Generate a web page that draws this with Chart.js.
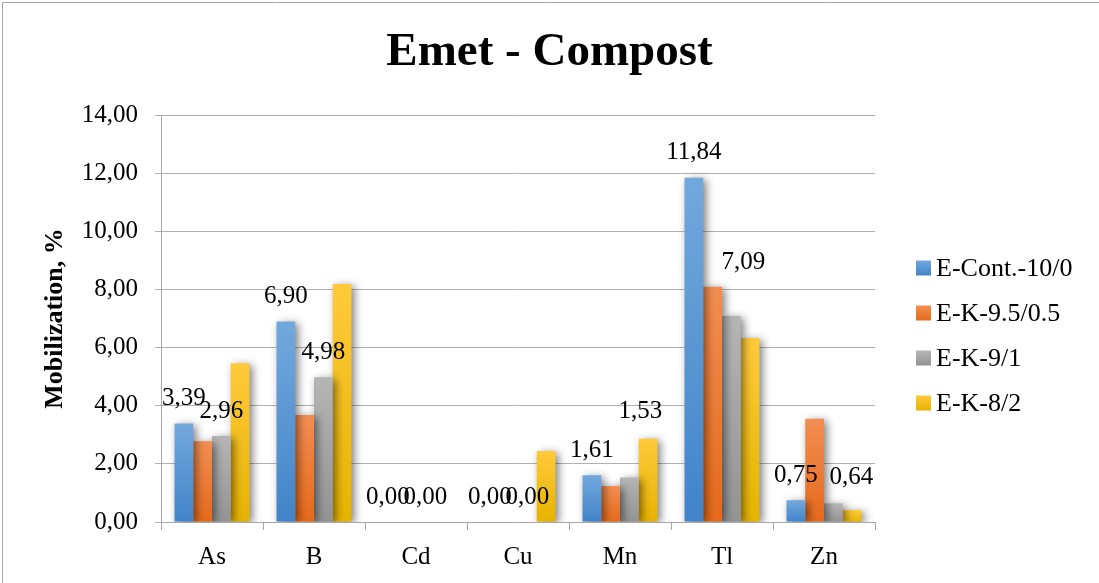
<!DOCTYPE html>
<html>
<head>
<meta charset="utf-8">
<title>Emet - Compost</title>
<script src="https://cdn.jsdelivr.net/npm/chart.js@4/dist/chart.umd.min.js"></script>
<style>
  html, body { margin: 0; padding: 0; background: #ffffff; }
  #wrap { position: relative; width: 1099px; height: 583px; }
  canvas { display: block; }
</style>
</head>
<body>
<div id="wrap"><canvas id="chart" width="1099" height="583"></canvas></div>
<script>
// Elements measured
const categories = ['As', 'B', 'Cd', 'Cu', 'Mn', 'Tl', 'Zn'];

// Mobilization (%) per treatment
const seriesNames = ['E-Cont.-10/0', 'E-K-9.5/0.5', 'E-K-9/1', 'E-K-8/2'];
const contValues = [3.39, 6.90, 0.00, 0.00, 1.61, 11.84, 0.75];
const k95Values  = [2.78, 3.68, 0.00, 0.00, 1.24, 8.09, 3.55];
const k9Values   = [2.96, 4.98, 0.00, 0.00, 1.53, 7.09, 0.64];
const k8Values   = [5.46, 8.19, 0.00, 2.44, 2.86, 6.33, 0.41];

// Value-axis ticks
const yTicks = [0, 2, 4, 6, 8, 10, 12, 14];

// Series that carry value labels above their bars
const labelledSeries = [0, 2];

// Hand-placed labels: extra offset in px, keyed "series-category"
const labelNudge = {
  '2-4': { dx: 11, dy: -41 },
  '2-5': { dx: 12, dy: -28 },
  '2-6': { dx: 18, dy: -1 }
};

// Fill colours: lighter at the top of each bar, deeper at the base
const fillTop    = ['#72a9dd', '#f28e52', '#b5b5b5', '#ffca3a'];
const fillBottom = ['#4283c9', '#e5691a', '#939393', '#e6b300'];

const FONT = "'Liberation Serif', 'Times New Roman', serif";

function fmt(v) {
  return v.toFixed(2).replace('.', ',');
}

// Vertical gradient spanning a single bar, from its value down to zero
function barGradient(c, i) {
  const chart = c.chart;
  const y = chart.scales && chart.scales.y;
  if (c.type !== 'data' || !y) return fillBottom[i];
  const top = y.getPixelForValue(c.raw);
  const base = y.getPixelForValue(0);
  if (!isFinite(top) || !isFinite(base)) return fillBottom[i];
  const g = chart.ctx.createLinearGradient(0, Math.min(top, base), 0, Math.max(top, base) + 0.01);
  g.addColorStop(0, fillTop[i]);
  g.addColorStop(1, fillBottom[i]);
  return g;
}

// Frame line along the left and top edges of the chart box
const framePlugin = {
  id: 'frame',
  beforeDraw(chart) {
    const ctx = chart.ctx;
    ctx.save();
    ctx.strokeStyle = '#a6a6a6';
    ctx.lineWidth = 1;
    ctx.beginPath();
    ctx.moveTo(2.5, chart.height);
    ctx.lineTo(2.5, 2.5);
    ctx.lineTo(chart.width, 2.5);
    ctx.stroke();
    ctx.restore();
  }
};

// Soft drop shadow behind the bars
const barShadowPlugin = {
  id: 'barShadow',
  beforeDatasetsDraw(chart) {
    const ctx = chart.ctx;
    ctx.save();
    ctx.shadowColor = 'rgba(0,0,0,0.5)';
    ctx.shadowBlur = 8;
    ctx.shadowOffsetX = 3;
    ctx.shadowOffsetY = 2;
  },
  afterDatasetsDraw(chart) {
    chart.ctx.restore();
  }
};

// Value labels above the labelled series
const valueLabelPlugin = {
  id: 'valueLabels',
  afterDatasetsDraw(chart) {
    const ctx = chart.ctx;
    ctx.save();
    ctx.font = '25px ' + FONT;
    ctx.fillStyle = '#000000';
    ctx.textAlign = 'center';
    ctx.textBaseline = 'middle';
    labelledSeries.forEach(i => {
      const meta = chart.getDatasetMeta(i);
      const values = chart.data.datasets[i].data;
      meta.data.forEach((bar, j) => {
        const n = labelNudge[i + '-' + j] || { dx: 0, dy: 0 };
        ctx.fillText(fmt(values[j]), bar.x + n.dx, bar.y - 25 + n.dy);
      });
    });
    ctx.restore();
  }
};

// Legend to the right of the plot
const sideLegendPlugin = {
  id: 'sideLegend',
  afterDraw(chart) {
    const ctx = chart.ctx;
    const x0 = chart.chartArea.right + 41;
    const rowGap = 45;
    const y0 = (chart.chartArea.top + chart.chartArea.bottom) / 2 + 17 - rowGap * 1.5;
    ctx.save();
    ctx.font = '26px ' + FONT;
    ctx.textBaseline = 'middle';
    ctx.textAlign = 'left';
    chart.data.datasets.forEach((ds, i) => {
      const cy = y0 + i * rowGap;
      const g = ctx.createLinearGradient(0, cy - 7.5, 0, cy + 7.5);
      g.addColorStop(0, fillTop[i]);
      g.addColorStop(1, fillBottom[i]);
      ctx.fillStyle = g;
      ctx.fillRect(x0, cy - 7.5, 15, 15);
      ctx.fillStyle = '#000000';
      ctx.fillText(ds.label, x0 + 20, cy + 1);
    });
    ctx.restore();
  }
};

const seriesValues = [contValues, k95Values, k9Values, k8Values];

new Chart(document.getElementById('chart'), {
  type: 'bar',
  data: {
    labels: categories,
    datasets: seriesNames.map((name, i) => ({
      label: name,
      data: seriesValues[i],
      backgroundColor: c => barGradient(c, i),
      borderWidth: 0,
      barPercentage: 1.0,
      categoryPercentage: 0.735
    }))
  },
  options: {
    responsive: false,
    animation: false,
    layout: { padding: 0 },
    plugins: {
      legend: { display: false },
      tooltip: { enabled: false },
      title: {
        display: true,
        text: 'Emet - Compost',
        color: '#000000',
        font: { family: FONT, size: 47, weight: 'bold', lineHeight: 1.2 },
        padding: { top: 25, bottom: 33.6 }
      }
    },
    scales: {
      x: {
        afterFit(scale) { scale.height = 61; },
        grid: {
          display: true,
          drawOnChartArea: false,
          drawTicks: true,
          tickLength: 8,
          color: '#a6a6a6'
        },
        border: { display: true, color: '#a6a6a6', width: 1 },
        ticks: {
          color: '#000000',
          font: { family: FONT, size: 25 },
          padding: 12,
          maxRotation: 0
        }
      },
      y: {
        min: 0,
        max: 14,
        afterFit(scale) { scale.width = 161; },
        afterBuildTicks(scale) { scale.ticks = yTicks.map(v => ({ value: v })); },
        grid: {
          color: '#b0b0b0',
          tickLength: 6,
          drawTicks: true
        },
        border: { display: true, color: '#a6a6a6', width: 1 },
        ticks: {
          color: '#000000',
          font: { family: FONT, size: 25 },
          padding: 17,
          callback: v => fmt(v)
        },
        title: {
          display: true,
          text: 'Mobilization, %',
          color: '#000000',
          font: { family: FONT, size: 26, weight: 'bold', lineHeight: 1.2 },
          padding: { top: 40, bottom: 0 }
        }
      },
      // Empty band on the right that holds the legend
      legendSpace: {
        type: 'linear',
        position: 'right',
        afterFit(scale) { scale.width = 224; },
        grid: { display: false },
        border: { display: false },
        ticks: { display: false }
      }
    }
  },
  plugins: [framePlugin, barShadowPlugin, valueLabelPlugin, sideLegendPlugin]
});
</script>
</body>
</html>
